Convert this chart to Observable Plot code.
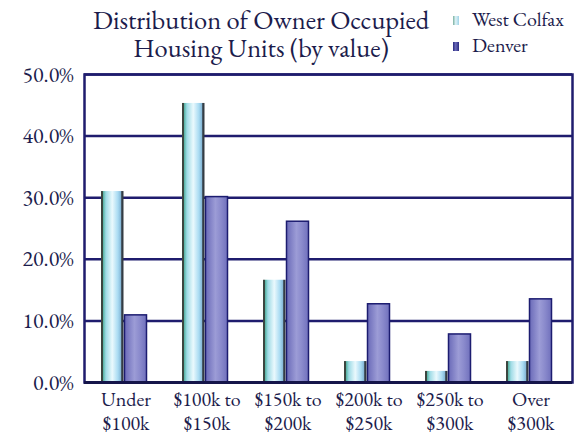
<!DOCTYPE html>
<html>
<head>
<meta charset="utf-8">
<script src="https://cdn.jsdelivr.net/npm/d3@7"></script>
<script src="https://cdn.jsdelivr.net/npm/@observablehq/plot@0.6"></script>
<style>
  html, body { margin: 0; padding: 0; background: #fff; }
  #wrap { position: relative; width: 575px; height: 435px; overflow: hidden; font-family: 'EB Garamond', 'Liberation Serif', serif; color: #1c1c4c; font-variant-numeric: lining-nums; }
  .tline { position: absolute; left: 0; width: 522px; text-align: center; font-size: 26.5px; line-height: 27px; white-space: nowrap; font-family: 'EB Garamond', 'Liberation Serif', serif; }
  #legend { position: absolute; left: 453px; top: 6px; font-size: 20px; line-height: 26px; white-space: nowrap; font-family: 'EB Garamond', 'Liberation Serif', serif; }
  .key { display: inline-block; width: 6px; height: 9px; margin-right: 13px; vertical-align: 1px; }
  #chart { position: absolute; left: 0; top: 0; }
  #chart svg text { font-family: 'EB Garamond', 'Liberation Serif', serif !important; font-variant-numeric: lining-nums; }
</style>
</head>
<body>
<div id="wrap">
  <div id="chart"></div>
  <div class="tline" style="top:6px">Distribution of Owner Occupied</div>
  <div class="tline" style="top:34px">Housing Units (by value)</div>
  <div id="legend"></div>
</div>
<script>
const categories = ["Under\n$100k", "$100k to\n$150k", "$150k to\n$200k", "$200k to\n$250k", "$250k to\n$300k", "Over\n$300k"];
const seriesNames = ["West Colfax", "Denver"];
const westColfax = [31.0, 45.3, 16.6, 3.4, 1.8, 3.4];
const denver = [10.9, 30.1, 26.1, 12.7, 7.8, 13.5];
const yTicks = [0, 10, 20, 30, 40, 50];

const wcData = categories.map((c, i) => ({cat: c, value: westColfax[i]}));
const dnData = categories.map((c, i) => ({cat: c, value: denver[i]}));

const navy = "#1f1c6e";
const textColor = "#1c1c4c";

const plot = Plot.plot({
  width: 575,
  height: 435,
  marginTop: 74,
  marginBottom: 53,
  marginLeft: 84,
  marginRight: 3,
  style: {fontFamily: "'EB Garamond', 'Liberation Serif', serif", fontSize: "21px", color: textColor, background: "transparent", overflow: "visible"},
  x: {domain: categories, padding: 0, label: null},
  y: {domain: [0, 50], label: null},
  marks: [
    Plot.ruleY(yTicks, {stroke: navy, strokeWidth: 2.5}),
    Plot.barY(wcData, {x: "cat", y: "value", fill: "url(#wcGrad)", insetLeft: 16, insetRight: 42.5}),
    Plot.barY(dnData, {x: "cat", y: "value", fill: "url(#dnGrad)", stroke: "#1c1c70", strokeWidth: 1.5, insetLeft: 39.5, insetRight: 19.5}),
    Plot.frame({stroke: navy, strokeWidth: 2.5}),
    Plot.ruleY([0], {stroke: "#15154a", strokeWidth: 3}),
    Plot.axisX({tickSize: 0, tickPadding: 6, lineHeight: 1.22, fontSize: 20, fill: textColor, label: null}),
    Plot.axisY({ticks: yTicks, tickFormat: d => d.toFixed(1) + "%", tickSize: 0, tickPadding: 11, fontSize: 22, fill: textColor, label: null})
  ]
});

// gradient definitions for the cylinder-like bars
const svg = d3.select(plot);
const defs = svg.insert("defs", ":first-child");
function grad(id, stops) {
  const g = defs.append("linearGradient").attr("id", id).attr("x1", "0").attr("x2", "1").attr("y1", "0").attr("y2", "0");
  stops.forEach(([o, c]) => g.append("stop").attr("offset", o).attr("stop-color", c));
}
grad("wcGrad", [[0, "#3b4640"], [0.07, "#3b4640"], [0.1, "#58b4a4"], [0.22, "#9fdbe6"], [0.5, "#eaf9fd"], [0.75, "#a9dbf2"], [0.88, "#86b8d8"], [0.92, "#343c44"], [1, "#343c44"]]);
grad("dnGrad", [[0, "#6a6ab8"], [0.45, "#9c9cd6"], [0.7, "#8a8acc"], [1, "#7070bc"]]);

document.getElementById("chart").appendChild(plot);

const legend = document.getElementById("legend");
seriesNames.forEach((name, i) => {
  const row = document.createElement("div");
  const key = document.createElement("span");
  key.className = "key";
  key.style.background = i === 0
    ? "linear-gradient(to right, #7ab0a0, #dff4f8 45%, #9fd2e6)"
    : "linear-gradient(to right, #2a2a80, #6a6ab8 45%, #2a2a80)";
  row.appendChild(key);
  row.appendChild(document.createTextNode(name));
  legend.appendChild(row);
});
</script>
</body>
</html>
